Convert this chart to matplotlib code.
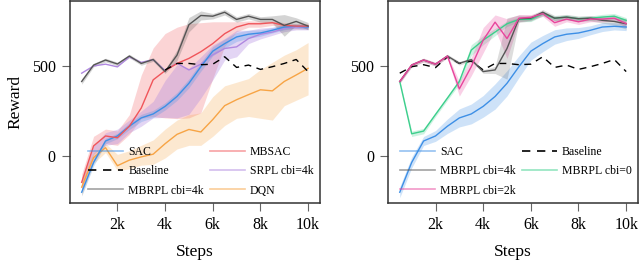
import numpy as np
import matplotlib
matplotlib.use('Agg')
from matplotlib import pyplot as plt
from matplotlib.lines import Line2D

plt.rcParams['font.family'] = ['Liberation Serif', 'DejaVu Serif']

steps = [0.5, 1, 1.5, 2, 2.5, 3, 3.5, 4, 4.5, 5, 5.5, 6, 6.5, 7, 7.5, 8, 8.5, 9, 9.5, 10]
xticks = [2, 4, 6, 8, 10]
xticklabels = ['2k', '4k', '6k', '8k', '10k']

# ---- left panel ----
baseline = [460, 496, 507, 491, 551, 514, 527, 478, 514, 514, 507, 510, 551, 492, 505, 481, 496, 514, 536, 469]

sac = [-200, -35, 84, 112, 166, 212, 234, 276, 331, 404, 496, 582, 624, 661, 676, 683, 698, 716, 720, 716]
sac_std_l = [20, 20, 15, 15, 18, 20, 20, 20, 22, 25, 25, 25, 25, 25, 22, 18, 15, 15, 12, 12]

mbsac = [-145, 57, 112, 102, 166, 267, 423, 474, 514, 542, 579, 624, 679, 716, 734, 734, 740, 725, 721, 721]
mbsac_hi = [-100, 110, 150, 140, 230, 450, 600, 680, 715, 735, 740, 745, 745, 745, 750, 750, 750, 740, 735, 735]
mbsac_lo = [-190, 10, 70, 60, 120, 210, 220, 212, 208, 212, 240, 430, 610, 690, 715, 715, 725, 710, 705, 705]

srpl = [460, 500, 510, 495, 550, 520, 535, 475, 515, 478, 510, 562, 597, 606, 652, 676, 688, 707, 716, 716]
srpl_hi = [-140, 60, 130, 150, 200, 250, 304, 420, 507, 487, 551, 616, 652, 698, 698, 710, 715, 725, 730, 730]
srpl_lo = [-190, -30, 60, 70, 130, 166, 212, 215, 212, 232, 322, 423, 533, 551, 624, 650, 670, 690, 700, 700]

mbrpl4k_l = [414, 505, 533, 511, 555, 514, 536, 469, 560, 729, 780, 776, 798, 758, 776, 758, 758, 725, 747, 721]
mbrpl4k_std_l = [15, 10, 10, 10, 10, 10, 10, 10, 30, 40, 25, 15, 15, 15, 15, 15, 20, 60, 20, 20]

dqn = [-172, -8, 47, -53, -22, -4, 11, 69, 121, 148, 134, 203, 280, 313, 341, 368, 362, 414, 450, 487]
dqn_hi = [-120, 20, 70, 10, 30, 60, 90, 150, 200, 230, 240, 330, 390, 410, 430, 480, 520, 560, 590, 630]
dqn_lo = [-220, -40, 20, -80, -70, -50, -45, -10, 40, 60, 60, 110, 170, 210, 220, 210, 200, 280, 310, 340]

# ---- right panel ----
sac_std_r = [30, 30, 25, 30, 40, 50, 55, 60, 70, 70, 60, 50, 45, 40, 35, 30, 25, 25, 20, 20]

mbrpl4k_r = [414, 505, 533, 510, 555, 515, 535, 469, 478, 597, 762, 765, 798, 765, 771, 762, 765, 753, 747, 734]
mbrpl4k_std_r = [10, 10, 10, 10, 10, 10, 10, 10, 20, 170, 20, 15, 15, 15, 15, 15, 15, 15, 20, 30]

mbrpl0 = [414, 124, 139, 231, 322, 414, 588, 643, 688, 734, 758, 758, 789, 765, 771, 762, 765, 771, 776, 753]
mbrpl0_std = [10, 15, 15, 12, 12, 15, 30, 25, 20, 15, 12, 12, 12, 12, 12, 12, 12, 15, 15, 15]

mbrpl2k = [414, 505, 533, 510, 555, 373, 496, 643, 743, 652, 765, 770, 790, 740, 760, 745, 760, 760, 765, 735]
mbrpl2k_std = [10, 10, 10, 10, 10, 40, 50, 70, 40, 110, 20, 15, 15, 20, 15, 15, 15, 15, 15, 20]

c_sac = '#3d8fe6'
c_mbsac = '#f0555a'
c_srpl = '#b088e0'
c_gray = '#555555'
c_dqn = '#f7a445'
c_green = '#3ccf8c'
c_pink = '#e8449c'

fig = plt.figure(figsize=(6.4, 2.62), dpi=100)
ax1 = fig.add_axes([0.109, 0.225, 0.391, 0.771])
ax2 = fig.add_axes([0.606, 0.225, 0.391, 0.771])

x = np.array(steps)


def band(ax, m, s, c, a=0.25):
    m = np.array(m, dtype=float)
    s = np.array(s, dtype=float)
    ax.fill_between(x, m - s, m + s, color=c, alpha=a, lw=0)


# left
ax1.fill_between(x, mbsac_lo, mbsac_hi, color=c_mbsac, alpha=0.25, lw=0)
ax1.fill_between(x, srpl_lo, srpl_hi, color=c_srpl, alpha=0.35, lw=0)
ax1.fill_between(x, dqn_lo, dqn_hi, color=c_dqn, alpha=0.25, lw=0)
band(ax1, sac, sac_std_l, c_sac, 0.25)
band(ax1, mbrpl4k_l, mbrpl4k_std_l, c_gray, 0.25)
ax1.plot(x, dqn, color=c_dqn, lw=1)
ax1.plot(x, srpl, color=c_srpl, lw=1)
ax1.plot(x, sac, color=c_sac, lw=1)
ax1.plot(x, mbsac, color=c_mbsac, lw=1)
ax1.plot(x, mbrpl4k_l, color=c_gray, lw=1)
ax1.plot(x[7:], baseline[7:], color='black', lw=1, ls=(0, (5, 4)))

# right
band(ax2, sac, sac_std_r, c_sac, 0.25)
band(ax2, mbrpl0, mbrpl0_std, c_green, 0.25)
band(ax2, mbrpl2k, mbrpl2k_std, c_pink, 0.25)
band(ax2, mbrpl4k_r, mbrpl4k_std_r, c_gray, 0.2)
ax2.plot(x, sac, color=c_sac, lw=1)
ax2.plot(x, baseline, color='black', lw=1, ls=(0, (5, 4)))
ax2.plot(x, mbrpl0, color=c_green, lw=1)
ax2.plot(x, mbrpl4k_r, color=c_gray, lw=1)
ax2.plot(x, mbrpl2k, color=c_pink, lw=1)

for ax in (ax1, ax2):
    ax.set_xlim(0, 10.5)
    ax.set_ylim(-260, 860)
    ax.set_xticks(xticks)
    ax.set_xticklabels(xticklabels)
    ax.set_yticks([0, 500])
    ax.tick_params(direction='out', length=6, width=0.8, color='#666666', labelsize=11.5, pad=4)
    for sp in ax.spines.values():
        sp.set_color('#333333')
        sp.set_linewidth(1.1)
    ax.set_xlabel('Steps', fontsize=12.5, labelpad=8)
ax1.set_ylabel('Reward', fontsize=12.5, labelpad=6)


def h(c, ls='-'):
    if ls == '-':
        return Line2D([], [], color=c, lw=1.2, alpha=0.55)
    return Line2D([], [], color=c, lw=1.2, ls=(0, (5, 4)))


hl = [h(c_sac), h('black', '--'), h(c_gray), h(c_mbsac), h(c_srpl), h(c_dqn)]
ll = ['SAC', 'Baseline', 'MBRPL cbi=4k', 'MBSAC', 'SRPL cbi=4k', 'DQN']
ax1.legend(hl, ll, ncol=2, loc='lower right', frameon=False, fontsize=8.5,
           handlelength=3.0, columnspacing=0.5, handletextpad=0.4, labelspacing=0.6,
           borderaxespad=0.15)

hr = [h(c_sac), h(c_gray), h(c_pink), h('black', '--'), h(c_green)]
lr = ['SAC', 'MBRPL cbi=4k', 'MBRPL cbi=2k', 'Baseline', 'MBRPL cbi=0']
ax2.legend(hr, lr, ncol=2, loc='lower right', frameon=False, fontsize=8.5,
           handlelength=3.0, columnspacing=0.5, handletextpad=0.4, labelspacing=0.6,
           borderaxespad=0.15)

fig.savefig('out.png', dpi=100)
